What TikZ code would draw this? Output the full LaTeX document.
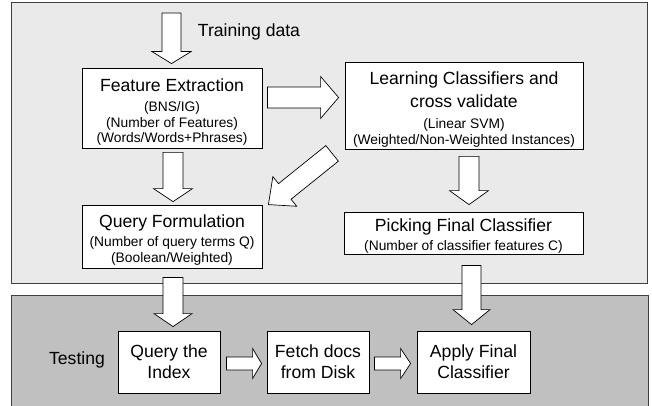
\documentclass[tikz,border=0pt]{standalone}
\usepackage{fontspec}
\setmainfont{Liberation Sans}
\usetikzlibrary{calc}
\definecolor{toppanel}{HTML}{EAEAEA}
\definecolor{botpanel}{HTML}{C0C0C0}
\definecolor{panelline}{HTML}{404040}
\newcommand\bigf{\fontsize{17.6}{21}\selectfont}
\newcommand\smallf{\fontsize{13.8}{15.5}\selectfont}
\newcommand\blkarrow[5]{%
  \path ($(#2)!#5!(#1)$) coordinate (bh);
  \draw[blk] ($(#1)!#3!90:(#2)$) -- ($(bh)!#3!-90:(#1)$) -- ($(bh)!#4!-90:(#1)$) -- (#2)
    -- ($(bh)!#4!90:(#1)$) -- ($(bh)!#3!90:(#1)$) -- ($(#1)!#3!-90:(#2)$) -- cycle;}
\begin{document}
\begin{tikzpicture}[x=1pt,y=-1pt,
  panel/.style={draw=panelline, line width=1pt},
  box/.style={draw=black, fill=white, line width=0.8pt, inner sep=0pt, align=center, font=\smallf},
  bigbox/.style={draw=black, fill=white, line width=0.8pt, inner sep=0pt, align=center, font=\bigf},
  blk/.style={draw=black, fill=white, line width=0.7pt, line join=miter},
  lbl/.style={inner sep=0pt, font=\bigf}]
\useasboundingbox (0,0) rectangle (652,406);
\begin{scope}
\clip (0,0) rectangle (652,406);
\draw[panel, fill=toppanel] (11,3) rectangle (647,283);
\draw[panel, fill=botpanel] (11,295) rectangle (648,420);
\end{scope}

\node[box, minimum width=180pt, minimum height=80pt] (fe) at (172,108)
  {\rule{0pt}{21pt}{\bigf Feature Extraction}\\[4.5pt] (BNS/IG)\\ (Number of Features)\\ (Words/Words+Phrases)};
\node[box, minimum width=238pt, minimum height=87pt] (lc) at (464,105.5)
  {\rule{0pt}{20pt}{\bigf Learning Classifiers and}\\[5.5pt] {\bigf cross validate}\\[6pt] (Linear SVM)\\ (Weighted/Non-Weighted Instances)};
\node[box, minimum width=180pt, minimum height=63pt] (qf) at (172,236.5)
  {\rule{0pt}{20pt}{\bigf Query Formulation}\\[3.5pt] (Number of query terms Q)\\ (Boolean/Weighted)};
\node[box, minimum width=239pt, minimum height=42pt] (pfc) at (463.5,233)
  {\rule{0pt}{19pt}{\bigf Picking Final Classifier}\\[3pt] (Number of classifier features C)};
\node[bigbox, minimum width=102pt, minimum height=62pt] (qi) at (169,362) {Query the\\ Index};
\node[bigbox, minimum width=102pt, minimum height=62pt] (fd) at (318,362) {Fetch docs\\ from Disk};
\node[bigbox, minimum width=113pt, minimum height=62pt] (af) at (473.5,362) {Apply Final\\ Classifier};

\node[lbl] (td) at (249,32) {Training data};
\node[lbl] (ts) at (77,360) {Testing};

\coordinate (t0) at (171.5,13);
\blkarrow{t0}{$(fe.north)+(-0.5,-4)$}{9.5pt}{19.5pt}{12pt}
\blkarrow{$(fe.south)+(1,4)$}{$(qf.north)+(1,-3)$}{10pt}{19.5pt}{13pt}
\blkarrow{$(fe.east)+(5,-10.5)$}{$(lc.west)+(-6,-8)$}{10.5pt}{21pt}{18pt}
\blkarrow{$(lc.south west)+(-12.5,4)$}{$(qf.north east)+(6,0)$}{10pt}{19pt}{21pt}
\blkarrow{$(lc.south)+(5,7)$}{$(pfc.north)+(5.5,-7)$}{10pt}{19.5pt}{14pt}
\blkarrow{$(qf.south)+(1,9)$}{$(qi.north)+(4,-4)$}{10pt}{19pt}{13pt}
\blkarrow{$(pfc.south)+(8,11)$}{$(af.north)+(-2,-6)$}{9.5pt}{18.5pt}{15pt}
\blkarrow{$(qi.east)+(6,1.5)$}{$(fd.west)+(-5,1.5)$}{6.5pt}{15pt}{9pt}
\blkarrow{$(fd.east)+(5,1.5)$}{$(af.west)+(-6,1.5)$}{6.5pt}{15pt}{10pt}
\end{tikzpicture}
\end{document}
